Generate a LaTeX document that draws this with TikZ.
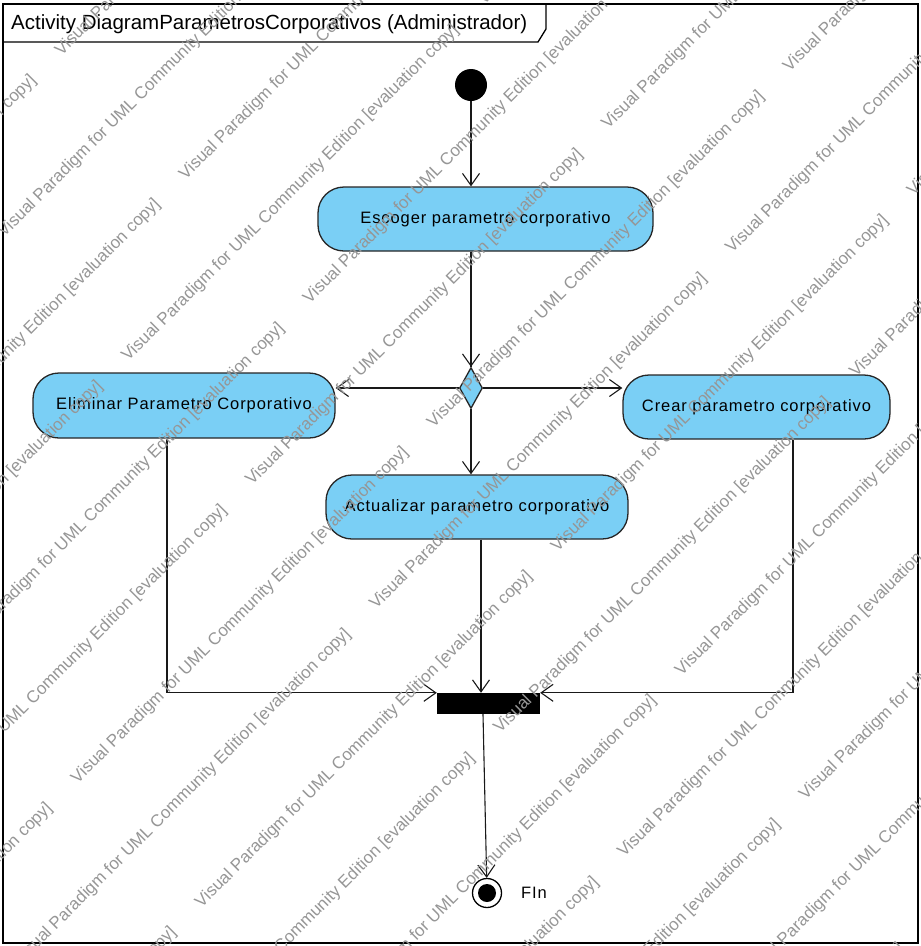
\documentclass[tikz,border=0pt]{standalone}
\usepackage{fontspec}
\setmainfont{Liberation Sans}
\newfontfamily\nodefont{Liberation Sans}[LetterSpace=5.5]
\usetikzlibrary{arrows.meta,calc,shapes.geometric}

\definecolor{actfill}{RGB}{122,207,245}
\definecolor{wmgray}{RGB}{150,150,150}

\begin{document}
\begin{tikzpicture}[x=1pt,y=-1pt,
  action/.style={draw=black!85,line width=1.3pt,fill=actfill,rounded corners=26pt,
    inner sep=0pt,font=\nodefont\fontsize{16.5}{20}\selectfont,text=black},
  flow/.style={line width=1.1pt,draw=black!90,
    -{Straight Barb[length=12pt,width=17pt,line width=1.1pt]}},
  plain/.style={line width=1.1pt,draw=black!90},
  watermark/.style={text=wmgray,font=\fontsize{17}{20}\selectfont,
    rotate=45,anchor=base west,inner sep=0pt}]

% canvas
\useasboundingbox (0,0) rectangle (921,946);
\fill[white] (0,0) rectangle (921,946);

% frame and title tab
\draw[line width=1.6pt] (3,4) rectangle (918,943);
\draw[line width=1.3pt] (3,42) -- (538,42) -- (546,29) -- (546,4);
\node[anchor=west,inner sep=0pt,font=\fontsize{20.5}{24}\selectfont] (title) at (11,24)
  {Activity DiagramParametrosCorporativos (Administrador)};

% nodes
\node[circle,fill=black,minimum size=32pt,inner sep=0pt] (init) at (471,85) {};
\node[action,minimum width=335pt,minimum height=64pt] (esc) at (485.5,219)
  {Escoger parametro corporativo};
\node[diamond,draw=black!85,line width=1.3pt,fill=actfill,inner sep=0pt,
  minimum width=23pt,minimum height=41pt] (dec) at (471,388) {};
\node[action,minimum width=302pt,minimum height=65pt] (elim) at (184,405.5)
  {Eliminar Parametro Corporativo};
\node[action,minimum width=267pt,minimum height=64pt] (crear) at (756.5,407)
  {Crear parametro corporativo};
\node[action,minimum width=302pt,minimum height=64pt] (act) at (477,507)
  {Actualizar parametro corporativo};
\node[rectangle,fill=black,minimum width=103pt,minimum height=21pt,inner sep=0pt]
  (join) at (488.5,703.5) {};
\node[circle,draw=black,line width=1.3pt,minimum size=29pt,inner sep=0pt] (fin) at (487,893) {};
\node[circle,fill=black,minimum size=18pt,inner sep=0pt] (fincore) at (fin) {};
\node[anchor=west,inner sep=0pt,font=\nodefont\fontsize{16.5}{20}\selectfont] (finlabel)
  at (521,893) {FIn};

% control flows
\draw[flow] (init) -- (init |- esc.north);
\draw[plain] (dec |- esc.south) -- (dec.north);
\draw[flow] (dec |- esc.south) -- (dec);
\draw[flow] (dec) -- (dec -| elim.east);
\draw[flow] (dec) -- (dec -| crear.west);
\draw[flow] (dec) -- (dec |- act.north);
\draw[flow] ($(act.south)+(4,0)$) coordinate (actout) -- (actout |- join.north);
\draw[flow] ($(elim.south)+(-17,0)$) |- (join.north west);
\draw[flow] ($(crear.south)+(36.5,0)$) |- (join.north east);
\draw[flow] ($(join.south)+(-5.5,0)$) -- (fin);

% evaluation watermark
\begin{scope}
\clip (0,0) rectangle (921,946);
\foreach \k in {-1,...,15}{
  \foreach \n in {-3,...,2}{
    \pgfmathsetmacro{\ws}{118+124*\k}
    \pgfmathsetmacro{\wt}{5-239*mod(\k+100,2)+712*\n}
    \pgfmathsetmacro{\wx}{(\ws+\wt)/2}
    \pgfmathsetmacro{\wy}{(\ws-\wt)/2}
    \node[watermark] (wm-\k-\n) at (\wx,\wy)
      {Visual Paradigm for UML Community Edition [evaluation copy]};
  }}
\end{scope}
\end{tikzpicture}
\end{document}
